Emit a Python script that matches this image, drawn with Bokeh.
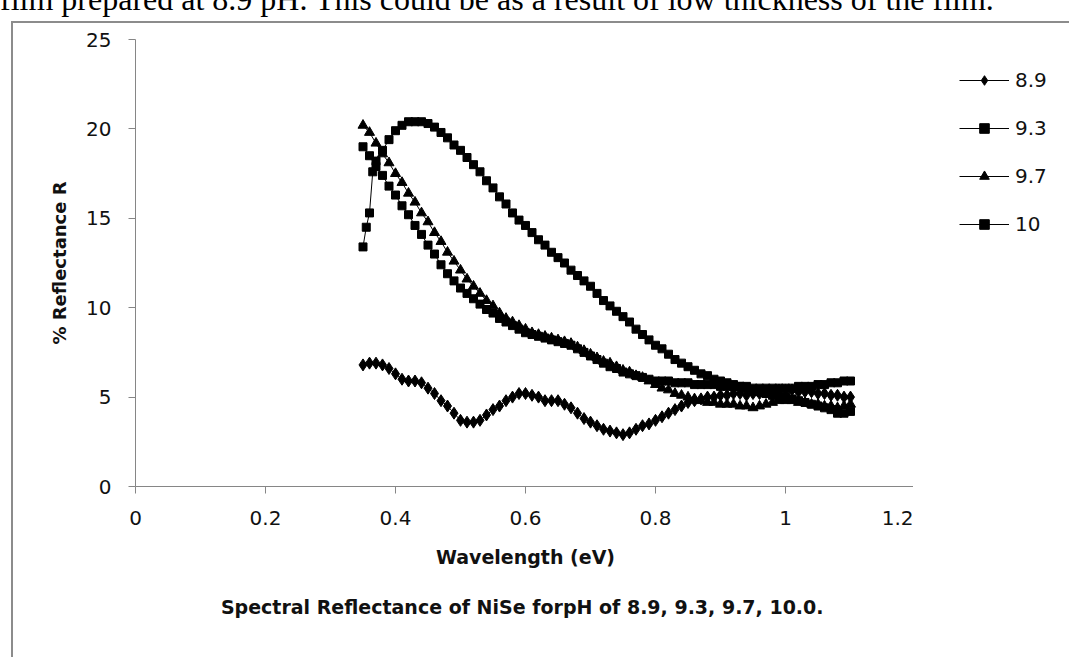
from bokeh.plotting import figure
from bokeh.layouts import column, row
from bokeh.models import (Range1d, FixedTicker, Legend, LegendItem, Title, Div,
                          CustomJSTickFormatter)
from bokeh.embed import file_html
from bokeh.resources import INLINE

# ---------------- data ----------------
series_names = ["8.9", "9.3", "9.7", "10"]

ev = [0.35, 0.36, 0.37, 0.38, 0.39, 0.40, 0.41, 0.42, 0.43, 0.44,
      0.45, 0.46, 0.47, 0.48, 0.49, 0.50, 0.51, 0.52, 0.53, 0.54,
      0.55, 0.56, 0.57, 0.58, 0.59, 0.60, 0.61, 0.62, 0.63, 0.64,
      0.65, 0.66, 0.67, 0.68, 0.69, 0.70, 0.71, 0.72, 0.73, 0.74,
      0.75, 0.76, 0.77, 0.78, 0.79, 0.80, 0.81, 0.82, 0.83, 0.84,
      0.85, 0.86, 0.87, 0.88, 0.89, 0.90, 0.91, 0.92, 0.93, 0.94,
      0.95, 0.96, 0.97, 0.98, 0.99, 1.00, 1.01, 1.02, 1.03, 1.04,
      1.05, 1.06, 1.07, 1.08, 1.09, 1.10]

r_89 = [6.8, 6.9, 6.9, 6.8, 6.6, 6.3, 6.0, 5.9, 5.9, 5.8,
        5.5, 5.2, 4.8, 4.5, 4.1, 3.7, 3.6, 3.6, 3.7, 4.0,
        4.3, 4.5, 4.8, 5.0, 5.2, 5.2, 5.1, 5.0, 4.8, 4.8,
        4.8, 4.6, 4.4, 4.1, 3.8, 3.6, 3.4, 3.2, 3.1, 3.0,
        2.9, 3.0, 3.2, 3.4, 3.5, 3.7, 3.9, 4.1, 4.3, 4.5,
        4.7, 4.8, 4.9, 5.0, 5.0, 5.1, 5.1, 5.2, 5.2, 5.1,
        5.2, 5.2, 5.3, 5.3, 5.4, 5.4, 5.4, 5.3, 5.3, 5.3,
        5.2, 5.2, 5.1, 5.1, 5.0, 5.0]

r_93 = [19.0, 18.5, 17.9, 17.4, 16.8, 16.3, 15.7, 15.2, 14.6, 14.1,
        13.5, 13.0, 12.4, 11.9, 11.5, 11.1, 10.8, 10.5, 10.2, 9.9,
        9.7, 9.4, 9.2, 9.0, 8.8, 8.6, 8.5, 8.4, 8.3, 8.2,
        8.1, 8.0, 7.9, 7.7, 7.5, 7.3, 7.1, 6.9, 6.7, 6.6,
        6.4, 6.3, 6.2, 6.1, 6.0, 5.9, 5.9, 5.9, 5.8, 5.8,
        5.8, 5.7, 5.7, 5.7, 5.7, 5.6, 5.6, 5.6, 5.6, 5.6,
        5.5, 5.5, 5.5, 5.5, 5.5, 5.5, 5.5, 5.6, 5.6, 5.6,
        5.7, 5.7, 5.8, 5.8, 5.9, 5.9]

r_97 = [20.2, 19.8, 19.2, 18.6, 18.1, 17.5, 17.0, 16.4, 15.9, 15.3,
        14.8, 14.2, 13.7, 13.1, 12.6, 12.1, 11.6, 11.2, 10.8, 10.4,
        10.1, 9.7, 9.4, 9.2, 9.0, 8.8, 8.6, 8.5, 8.4, 8.3,
        8.2, 8.1, 8.0, 7.8, 7.6, 7.4, 7.2, 7.0, 6.9, 6.7,
        6.5, 6.4, 6.2, 6.1, 5.9, 5.7, 5.5, 5.4, 5.2, 5.1,
        5.0, 4.9, 4.8, 4.7, 4.7, 4.6, 4.6, 4.6, 4.5, 4.5,
        4.4, 4.5, 4.6, 4.7, 4.8, 4.8, 4.8, 4.7, 4.7, 4.6,
        4.6, 4.5, 4.5, 4.4, 4.5, 4.6]

ev_10 = [0.35, 0.355, 0.36, 0.365, 0.37, 0.38, 0.39, 0.40, 0.41, 0.42,
         0.43, 0.44, 0.45, 0.46, 0.47, 0.48, 0.49, 0.50, 0.51, 0.52,
         0.53, 0.54, 0.55, 0.56, 0.57, 0.58, 0.59, 0.60, 0.61, 0.62,
         0.63, 0.64, 0.65, 0.66, 0.67, 0.68, 0.69, 0.70, 0.71, 0.72,
         0.73, 0.74, 0.75, 0.76, 0.77, 0.78, 0.79, 0.80, 0.81, 0.82,
         0.83, 0.84, 0.85, 0.86, 0.87, 0.88, 0.89, 0.90, 0.91, 0.92,
         0.93, 0.94, 0.95, 0.96, 0.97, 0.98, 0.99, 1.00, 1.01, 1.02,
         1.03, 1.04, 1.05, 1.06, 1.07, 1.08, 1.09, 1.10]

r_10 = [13.4, 14.5, 15.3, 17.6, 18.2, 18.8, 19.4, 19.9, 20.2, 20.4,
        20.4, 20.4, 20.3, 20.1, 19.8, 19.5, 19.1, 18.8, 18.4, 18.0,
        17.6, 17.1, 16.7, 16.2, 15.8, 15.3, 14.9, 14.6, 14.2, 13.8,
        13.5, 13.1, 12.8, 12.5, 12.1, 11.8, 11.5, 11.2, 10.8, 10.4,
        10.1, 9.8, 9.5, 9.2, 8.8, 8.5, 8.2, 7.9, 7.7, 7.4,
        7.1, 6.9, 6.7, 6.5, 6.3, 6.2, 6.0, 5.9, 5.8, 5.7,
        5.6, 5.5, 5.4, 5.3, 5.2, 5.1, 5.0, 5.0, 4.9, 4.8,
        4.7, 4.6, 4.5, 4.4, 4.3, 4.1, 4.1, 4.2]

x_ticks = [0, 0.2, 0.4, 0.6, 0.8, 1.0, 1.2]
x_tick_labels = ["0", "0.2", "0.4", "0.6", "0.8", "1", "1.2"]
y_ticks = [0, 5, 10, 15, 20, 25]

top_text = "film prepared at 8.9 pH. This could be as a result of low thickness of the film."
caption = "Spectral Reflectance of NiSe forpH of  8.9, 9.3, 9.7, 10.0."

# ---------------- layout geometry ----------------
W, H = 902, 636            # main chart canvas (frame ends at the 1.2 tick)
LW = 156                   # legend strip to the right of the chart
LEFT, TOP, BOTTOM = 122, 16, 173
FONT = "DejaVu Sans"
GREY = "#868686"
BORDER = "2px solid #8c8c8c"

p = figure(width=W, height=H, x_range=Range1d(0, 1.2), y_range=Range1d(0, 25),
           output_backend="svg", toolbar_location=None,
           min_border_left=LEFT, min_border_right=0,
           min_border_top=TOP, min_border_bottom=BOTTOM,
           styles={"margin-top": "4px", "margin-left": "11px",
                   "border-top": BORDER, "border-left": BORDER})
p.outline_line_color = None
p.grid.visible = False
p.background_fill_color = "white"
p.border_fill_color = "white"

for ax in (p.xaxis[0], p.yaxis[0]):
    ax.axis_line_color = GREY
    ax.axis_line_width = 1
    ax.major_tick_line_color = GREY
    ax.major_tick_out = 7
    ax.major_tick_in = 0
    ax.minor_tick_line_color = None
    ax.major_label_text_font = FONT
    ax.major_label_text_font_size = "20px"
    ax.major_label_text_color = "#111111"
    ax.axis_label_text_font = FONT
    ax.axis_label_text_font_style = "bold"
    ax.axis_label_text_color = "#111111"

p.xaxis[0].ticker = FixedTicker(ticks=x_ticks)
p.xaxis[0].formatter = CustomJSTickFormatter(
    args=dict(tvals=x_ticks, tlabels=x_tick_labels),
    code="""
    for (let i = 0; i < tvals.length; i++) {
        if (Math.abs(tick - tvals[i]) < 1e-9) return tlabels[i];
    }
    return tick.toString();
    """)
p.xaxis[0].major_label_standoff = 17
p.xaxis[0].axis_label = "Wavelength (eV)"
p.xaxis[0].axis_label_standoff = 18
p.xaxis[0].axis_label_text_font_size = "19px"

p.yaxis[0].ticker = FixedTicker(ticks=y_ticks)
p.yaxis[0].major_label_standoff = 17
p.yaxis[0].axis_label = "% Reflectance R"
p.yaxis[0].axis_label_standoff = 13
p.yaxis[0].axis_label_text_font_size = "18px"

# ---------------- series ----------------
specs = [
    (ev, r_89, "diamond", 12),
    (ev, r_93, "square", 8),
    (ev, r_97, "triangle", 10),
    (ev_10, r_10, "square", 8),
]
for xs, ys, marker, size in specs:
    p.line(xs, ys, line_color="black", line_width=1)
    p.scatter(xs, ys, marker=marker, size=size, fill_color="black", line_color="black")

p.add_layout(Title(text=caption, align="center",
                   text_font=FONT, text_font_style="bold", text_font_size="19px",
                   text_color="#111111", standoff=47), "below")

# ---------------- legend strip (same series, legend only) ----------------
lg = figure(width=LW, height=H, x_range=Range1d(10, 11), y_range=Range1d(10, 11),
            output_backend="svg", toolbar_location=None,
            x_axis_location=None, y_axis_location=None,
            min_border_left=0, min_border_right=0, min_border_top=0, min_border_bottom=0,
            styles={"margin-top": "4px", "border-top": BORDER})
lg.outline_line_color = None
lg.grid.visible = False
items = []
for name, (xs, ys, marker, size) in zip(series_names, specs):
    lr = lg.line(xs, ys, line_color="black", line_width=1)
    sr = lg.scatter(xs, ys, marker=marker, size=size, fill_color="black", line_color="black")
    items.append(LegendItem(label=name, renderers=[lr, sr]))

legend = Legend(items=items, location=(46, 250), orientation="vertical",
                glyph_width=50, glyph_height=24, label_height=24, spacing=24,
                padding=0, margin=0, label_standoff=6,
                border_line_color=None, background_fill_alpha=0,
                label_text_font=FONT, label_text_font_size="20px",
                label_text_color="#111111")
lg.add_layout(legend)

top_div = Div(
    text=('<span style="position: relative; left: 8px; top: -1px; '
          'font-family: \'Liberation Serif\', serif; font-size: 32px; '
          'line-height: 24px; white-space: nowrap; color: #000;">' + top_text + '</span>'),
    width=1000, height=24,
    styles={"margin-top": "-12px", "margin-left": "-8px", "overflow": "visible"})

layout = column(top_div, row(p, lg, spacing=0), spacing=0)

open("out.html", "w").write(file_html(layout, INLINE))
